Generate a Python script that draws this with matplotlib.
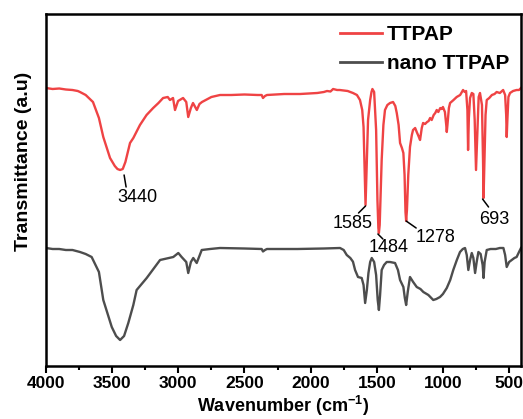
import matplotlib
matplotlib.use("Agg")
import matplotlib.pyplot as plt
from matplotlib.ticker import MultipleLocator
from matplotlib.transforms import offset_copy

plt.rcParams['font.family'] = ['Liberation Sans', 'DejaVu Sans']
plt.rcParams['mathtext.fontset'] = 'custom'
plt.rcParams['mathtext.rm'] = 'Liberation Sans'
plt.rcParams['mathtext.bf'] = 'Liberation Sans:bold'

# ---- data (wavenumber cm-1, transmittance a.u.) ----
ttpap_wn = [4000, 3950, 3900, 3850, 3800, 3760, 3743, 3700, 3645, 3600, 3567, 3516,
            3480, 3460, 3440, 3420, 3400, 3365, 3340, 3290, 3240, 3190, 3150, 3115,
            3080, 3063, 3040, 3025, 3002, 2964, 2940, 2925, 2905, 2889, 2860, 2840,
            2821, 2750, 2685, 2600, 2500, 2400, 2370, 2360, 2345, 2330, 2200, 2080,
            1950, 1900, 1876, 1850, 1830, 1800, 1780, 1720, 1680, 1650, 1627, 1610,
            1600, 1592, 1585, 1578, 1566, 1550, 1540, 1533, 1520, 1505, 1495, 1488,
            1484, 1478, 1470, 1463, 1450, 1438, 1420, 1400, 1377, 1360, 1349, 1335,
            1324, 1310, 1299, 1290, 1283, 1278, 1272, 1262, 1249, 1235, 1226, 1210,
            1198, 1185, 1173, 1160, 1150, 1135, 1120, 1108, 1097, 1085, 1070, 1058,
            1047, 1035, 1020, 1010, 1000, 985, 975, 971, 966, 955, 946, 920, 896,
            870, 848, 835, 825, 815, 810, 804, 795, 782, 770, 760, 750, 742, 730,
            720, 705, 697, 693, 688, 678, 669, 650, 630, 610, 594, 570, 545, 530,
            522, 518, 513, 505, 493, 470, 443, 425, 410]
ttpap_px = [88, 89, 88.5, 89.5, 90, 91, 92, 95, 102, 118, 137, 158,
            166, 169, 170, 169, 162, 143, 138, 125, 115, 108, 103, 98,
            97, 100, 98, 110, 101, 98, 102, 117, 108, 103, 110, 104,
            102, 97, 95, 95, 94.5, 95, 95, 98, 96, 95, 94, 94,
            93, 92, 91, 91.5, 89, 90, 90, 91, 93, 95, 100, 110,
            127, 170, 205, 175, 120, 100, 92, 89, 92, 130, 200, 228,
            233, 225, 190, 160, 125, 110, 105, 103, 102, 106, 113, 125,
            143, 148, 153, 175, 212, 221, 210, 175, 147, 135, 130, 128,
            132, 136, 140, 128, 123, 124, 122, 121, 118, 120, 115, 113,
            110, 112, 108, 109, 107, 112, 125, 132, 125, 108, 103, 100, 97,
            95, 90, 92, 91, 110, 150, 118, 98, 93, 94, 120, 170, 140, 97,
            93, 105, 160, 198, 170, 115, 100, 98, 95, 94, 92, 93, 90, 95,
            115, 137, 120, 97, 93, 91, 90, 90, 88]

nano_wn = [4000, 3950, 3900, 3850, 3800, 3743, 3700, 3655, 3600, 3567, 3503, 3470,
           3440, 3410, 3378, 3340, 3315, 3239, 3138, 3038, 3000, 2975, 2940, 2925,
           2905, 2887, 2861, 2823, 2760, 2685, 2500, 2370, 2360, 2345, 2330, 2100,
           1900, 1778, 1750, 1727, 1700, 1680, 1664, 1642, 1614, 1600, 1588, 1575,
           1563, 1550, 1538, 1520, 1505, 1493, 1484, 1475, 1463, 1445, 1425, 1400,
           1362, 1340, 1324, 1299, 1288, 1278, 1266, 1249, 1225, 1198, 1170, 1148,
           1110, 1073, 1050, 1022, 1000, 971, 945, 922, 895, 871, 850, 833, 820, 808,
           795, 782, 770, 757, 745, 732, 715, 700, 693, 685, 669, 640, 600, 570, 543,
           530, 518, 500, 480, 460, 443, 425, 410]
nano_px = [248, 249, 249, 250, 250, 252, 254, 257, 272, 300, 327, 336,
           340, 336, 323, 305, 290, 278, 260, 257, 253, 257, 262, 273,
           262, 258, 263, 250, 249, 248, 248.5, 249, 251.5, 250, 249, 249,
           248.5, 248, 250, 255, 258, 261.7, 270, 277, 278, 285, 303, 290,
           273, 262, 258, 262, 275, 300, 310, 295, 270, 265, 262, 262,
           263, 270, 280, 287, 298, 305, 292, 277, 282, 287, 289, 292,
           295, 300, 299, 297, 294, 288, 280, 270, 260, 252, 249, 248, 255, 270,
           260, 253, 258, 273, 262, 252, 254, 265, 278, 262, 250, 249, 249, 248, 248,
           255, 267, 262, 260, 258, 257, 252, 248]

ttpap_T = [366 - p for p in ttpap_px]
nano_T = [366 - p for p in nano_px]

peak_labels = ["3440", "1585", "1484", "1278", "693"]
peak_wn = [3440, 1585, 1484, 1278, 693]

fig = plt.figure(figsize=(5.23, 4.19), dpi=100)
ax = fig.add_axes([46/523, 53/419, 475/523, 352/419])

red = '#ef4344'
gray = '#4d4d4d'
ax.plot(ttpap_wn, ttpap_T, color=red, lw=1.7, label='TTPAP')
ax.plot(nano_wn, nano_T, color=gray, lw=1.7, label='nano TTPAP')

ax.set_xlim(4000, 410)
ax.set_ylim(0, 352)
ax.set_yticks([])
ax.xaxis.set_major_locator(MultipleLocator(500))
ax.xaxis.set_minor_locator(MultipleLocator(250))
ax.tick_params(axis='x', which='major', direction='out', length=5, width=1.5,
               labelsize=12.5, pad=2)
ax.tick_params(axis='x', which='minor', direction='out', length=3, width=1.5)
for lab in ax.get_xticklabels():
    lab.set_fontweight('bold')
for s in ax.spines.values():
    s.set_linewidth(1.8)

ax.set_xlabel(r'Wavenumber (cm$^{\mathbf{-1}}$)', fontsize=13, fontweight='bold', labelpad=2)
ax.set_ylabel('Transmittance (a.u)', fontsize=14, fontweight='bold')
ax.yaxis.set_label_coords(-0.03, 0.58)

leg = ax.legend(loc='upper right', frameon=False, prop={'weight': 'bold', 'size': 15},
                handlelength=2.0, handletextpad=0.25, labelspacing=0.45,
                borderaxespad=0.15, bbox_to_anchor=(1.0, 1.0))
for h in leg.get_lines():
    h.set_linewidth(2)

# annotation layout: (line start dx,dy), (line end dx,dy), (text dx,dy) in pixels from peak
layout = {
    "3440": ((4, 5), (6, 17), (17, 27)),
    "1585": ((0, 1), (-7, 8), (-13, 18)),
    "1484": ((-1, 1), (4, 6), (10, 14)),
    "1278": ((0, 0), (10, 7), (29, 16)),
    "693": ((-1, 1), (5, 9), (11, 21)),
}
for lab, wn in zip(peak_labels, peak_wn):
    idx = ttpap_wn.index(wn)
    val = ttpap_T[idx]
    (x1, y1), (x2, y2), (tx, ty) = layout[lab]
    tr = offset_copy(ax.transData, fig=fig, x=x1, y=-y1, units='dots')
    ax.annotate('', xy=(wn, val), xycoords=tr, xytext=(x2 - x1, -(y2 - y1)),
                textcoords='offset pixels',
                arrowprops=dict(arrowstyle='-', lw=1.1, color='black',
                                shrinkA=0, shrinkB=0))
    ax.annotate(lab, xy=(wn, val), xytext=(tx, -ty), textcoords='offset pixels',
                ha='center', va='center', fontsize=13)

fig.savefig('out.png', dpi=100)
